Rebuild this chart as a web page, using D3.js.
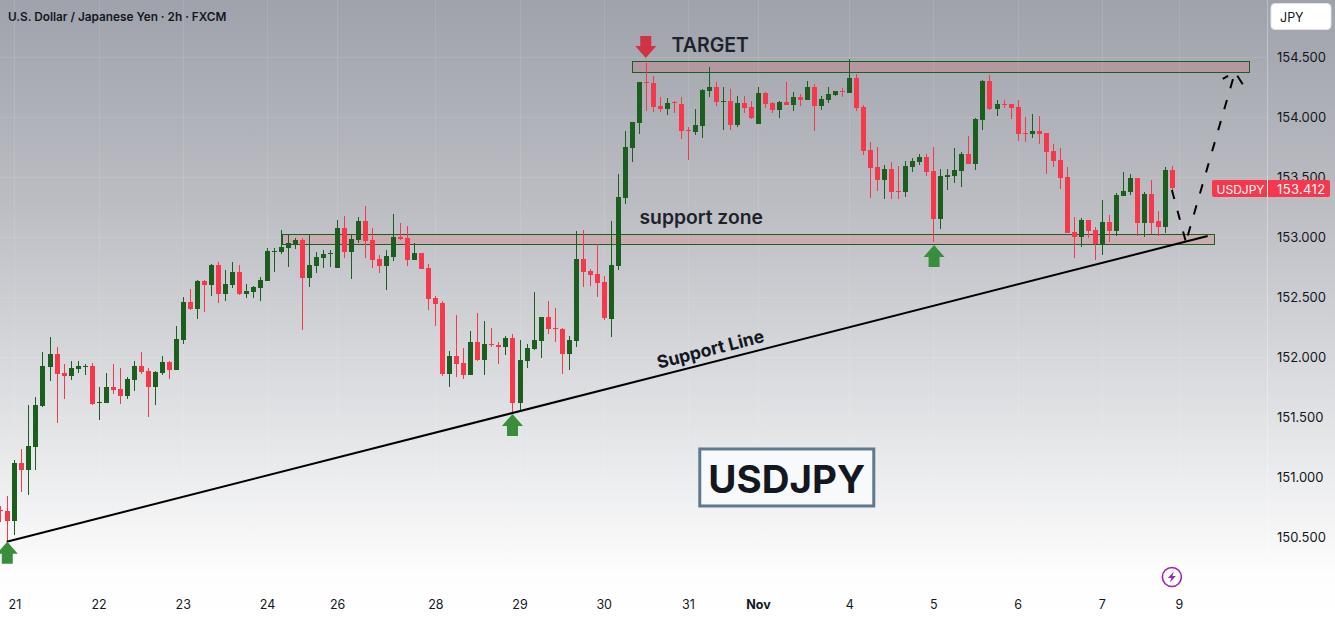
<!DOCTYPE html>
<html>
<head>
<meta charset="utf-8">
<title>USDJPY 2h</title>
<script src="https://cdn.jsdelivr.net/npm/d3@7/dist/d3.min.js"></script>
<style>
html,body{margin:0;padding:0;background:#fff;overflow:hidden}
svg{display:block}
text{font-family:Inter,Roboto,"Liberation Sans",sans-serif}
</style>
</head>
<body>
<svg id="chart" width="1335" height="618"></svg>
<script>
// USD/JPY two-hour candles, one row of ten per line
const opens = [
150.725,150.717,150.633,151.117,151.058,151.250,151.592,151.917,152.025,151.867,
151.842,151.900,151.917,151.925,151.617,151.617,151.750,151.733,151.675,151.808,
151.925,151.883,151.750,151.867,151.958,151.892,152.142,152.458,152.400,152.633,
152.600,152.767,152.525,152.600,152.708,152.525,152.542,152.575,152.633,152.875,
152.875,152.908,152.933,152.975,152.658,152.758,152.825,152.858,152.742,153.075,
152.875,152.975,153.133,152.975,152.817,152.758,152.833,153.000,152.992,152.808,
152.867,152.742,152.492,152.450,151.858,152.008,151.950,151.850,152.125,151.975,
152.108,152.100,152.083,152.158,151.617,151.967,152.067,152.133,152.333,152.242,
152.233,152.025,152.133,152.817,152.717,152.692,152.625,152.317,152.758,153.325,
153.742,153.950,154.292,154.283,154.092,154.067,154.125,154.108,153.892,153.875,
153.925,154.217,154.250,154.125,154.133,153.933,154.117,154.083,153.942,154.200,
154.117,154.058,154.125,154.100,154.167,154.142,154.250,154.092,154.142,154.183,
154.217,154.200,154.325,154.083,153.725,153.583,153.475,153.567,153.383,153.375,
153.583,153.625,153.667,153.550,153.150,153.500,153.508,153.550,153.692,153.608,
153.975,154.300,154.067,154.108,154.108,154.083,153.867,153.858,153.883,153.867,
153.717,153.642,153.500,153.042,153.000,153.142,153.058,152.942,153.125,153.050,
153.342,153.375,153.492,153.117,153.358,153.133,153.083,153.558];
const highs = [
150.758,150.842,151.142,151.233,151.600,151.667,152.042,152.167,152.083,151.942,
151.967,151.967,151.942,151.950,151.750,151.867,151.942,151.908,151.833,151.967,
152.042,151.908,151.883,152.008,151.967,152.258,152.500,152.567,152.642,152.642,
152.775,152.792,152.725,152.792,152.767,152.608,152.592,152.667,152.908,152.908,
153.058,153.025,152.992,152.992,153.025,152.875,152.892,152.892,153.142,153.175,
153.017,153.167,153.258,153.075,152.850,152.892,153.192,153.117,153.092,152.950,
152.867,152.775,152.508,152.467,152.050,152.350,152.075,152.217,152.367,152.300,
152.242,152.125,152.175,152.192,152.142,152.108,152.542,152.333,152.467,152.408,
152.242,152.175,153.050,153.058,152.733,152.942,152.675,153.133,153.525,153.883,
153.958,154.292,154.450,154.342,154.167,154.158,154.133,154.167,153.917,154.067,
154.233,154.417,154.292,154.250,154.233,154.175,154.175,154.133,154.250,154.208,
154.125,154.133,154.292,154.208,154.192,154.300,154.275,154.175,154.250,154.217,
154.242,154.483,154.358,154.100,153.792,153.750,153.600,153.625,153.592,153.633,
153.658,153.692,153.692,153.750,153.567,153.567,153.742,153.708,153.842,153.992,
154.308,154.350,154.142,154.142,154.108,154.142,154.000,154.025,154.008,153.867,
153.775,153.742,153.583,153.167,153.158,153.142,153.083,153.308,153.183,153.367,
153.542,153.525,153.492,153.375,153.475,153.217,153.583,153.592];
const lows = [
150.625,150.458,150.517,150.875,150.850,151.058,151.583,151.800,151.450,151.650,
151.808,151.867,151.850,151.600,151.475,151.617,151.692,151.608,151.650,151.717,
151.858,151.500,151.600,151.850,151.817,151.892,152.108,152.392,152.317,152.375,
152.508,152.450,152.467,152.575,152.517,152.492,152.492,152.467,152.633,152.708,
152.858,152.750,152.900,152.225,152.583,152.700,152.742,152.750,152.742,152.825,
152.650,152.950,152.825,152.742,152.700,152.558,152.800,152.975,152.758,152.808,
152.733,152.392,152.258,151.842,151.750,151.833,151.817,151.850,151.967,151.850,
152.083,151.942,152.017,151.525,151.550,151.908,152.058,151.992,152.192,152.125,
151.858,151.892,152.083,152.583,152.592,152.500,152.308,152.167,152.725,153.275,
153.625,153.858,154.050,154.042,154.042,154.017,154.033,153.817,153.642,153.850,
153.825,154.167,154.092,153.892,153.892,153.917,154.033,153.983,153.942,154.075,
154.033,153.992,154.100,154.050,154.092,154.142,153.883,154.058,154.117,154.175,
154.167,154.200,154.050,153.683,153.325,153.383,153.317,153.317,153.317,153.333,
153.542,153.600,153.508,152.958,153.067,153.392,153.450,153.417,153.608,153.558,
153.892,154.058,154.008,154.075,153.983,153.800,153.792,153.825,153.775,153.525,
153.583,153.400,153.033,152.825,152.917,152.992,152.808,152.850,152.958,153.008,
153.342,153.350,153.008,153.000,153.025,153.008,153.033,153.392];
const closes = [
150.717,150.633,151.117,151.058,151.258,151.600,151.925,152.025,151.858,151.842,
151.908,151.925,151.925,151.608,151.625,151.750,151.725,151.675,151.817,151.925,
151.875,151.750,151.875,151.958,151.892,152.150,152.458,152.400,152.633,152.600,
152.767,152.525,152.608,152.708,152.525,152.550,152.583,152.642,152.883,152.883,
152.917,152.950,152.975,152.658,152.767,152.833,152.858,152.867,153.075,152.875,
152.983,153.133,152.967,152.808,152.758,152.842,153.000,152.983,152.808,152.867,
152.733,152.483,152.442,151.858,152.008,151.942,151.850,152.125,151.975,152.108,
152.100,152.083,152.158,151.617,151.975,152.075,152.142,152.333,152.233,152.233,
152.025,152.142,152.817,152.708,152.683,152.617,152.325,152.767,153.333,153.750,
153.958,154.292,154.283,154.083,154.067,154.117,154.117,153.883,153.883,153.933,
154.225,154.250,154.125,154.133,153.933,154.117,154.075,153.992,154.200,154.108,
154.058,154.125,154.100,154.167,154.142,154.250,154.092,154.150,154.192,154.217,
154.208,154.325,154.075,153.717,153.575,153.475,153.567,153.375,153.375,153.592,
153.633,153.667,153.542,153.150,153.508,153.517,153.558,153.692,153.608,153.983,
154.300,154.067,154.108,154.100,154.075,153.858,153.858,153.883,153.858,153.708,
153.633,153.492,153.033,153.000,153.142,153.050,152.942,153.125,153.050,153.350,
153.383,153.492,153.117,153.358,153.117,153.083,153.558,153.412];

// Time axis: candle slot and the label shown there
const timeSlots  = [2,14,26,38,48,62,74,86,98,108,121,133,145,157,168];
const timeLabels = ["21","22","23","24","26","28","29","30","31","Nov","4","5","6","7","9"];
const priceTicks = [150.5,151,151.5,152,152.5,153,153.5,154,154.5];

// Drawn annotations, in candle slots and prices
const targetZone  = {x0:90.1, x1:178.0, top:154.464, bottom:154.372};
const supportZone = {x0:40.1, x1:173.0, top:153.025, bottom:152.942};
const trendLine   = [[0.9,150.461],[172.1,153.008]];
const forecastDown = [[167.0,153.392],[169.0,152.958]];
const forecastUp   = [[169.0,152.958],[176.0,154.375]];
const forecastLeftBarb  = [[176.0,154.375],[174.25,154.317]];
const forecastRightBarb = [[176.0,154.375],[177.1,154.272]];
const upArrows   = [[0.98,150.46],[73,151.525],[133.1,152.933]];
const downArrows = [[92,154.492]];
const lastPrice = 153.412;

const width = 1335, height = 618;
const GREEN = "#1b5e20", RED = "#f7374b";

const x = d3.scaleLinear().domain([0,168]).range([0.4,1178.9]);
const y = d3.scaleLinear().domain([149.825,154.975]).range([618,0]);

const svg = d3.select("#chart");
const defs = svg.append("defs");
const bg = defs.append("linearGradient").attr("id","pane").attr("x1",0).attr("x2",0).attr("y1",0).attr("y2",1);
[[0,"#9fa2ab"],[0.33,"#bcbdc3"],[0.72,"#e6e7e9"],[0.93,"#fdfdfd"],[1,"#ffffff"]]
  .forEach(([o,c]) => bg.append("stop").attr("offset",o).attr("stop-color",c));

svg.append("rect").attr("width",width).attr("height",height).attr("fill","url(#pane)");

// Faint grid and the price-scale separator
const grid = svg.append("g").attr("stroke","#fff").attr("stroke-opacity",0.1);
grid.selectAll("line.h").data(priceTicks).join("line")
  .attr("x1",0).attr("x2",1267)
  .attr("y1",d=>Math.round(y(d))+0.5).attr("y2",d=>Math.round(y(d))+0.5);
grid.selectAll("line.v").data(timeSlots).join("line")
  .attr("y1",0).attr("y2",594)
  .attr("x1",d=>Math.round(x(d))+0.5).attr("x2",d=>Math.round(x(d))+0.5);
svg.append("line").attr("x1",1267.5).attr("x2",1267.5).attr("y1",0).attr("y2",594)
  .attr("stroke","#fff").attr("stroke-opacity",0.3);

// Zones sit behind the candles
[targetZone,supportZone].forEach(z => {
  svg.append("rect")
    .attr("x",Math.round(x(z.x0))+0.5).attr("y",Math.round(y(z.top))+0.5)
    .attr("width",Math.round(x(z.x1))-Math.round(x(z.x0)))
    .attr("height",Math.round(y(z.bottom))-Math.round(y(z.top)))
    .attr("fill","#f23645").attr("fill-opacity",0.16)
    .attr("stroke",GREEN).attr("stroke-width",1);
});

// Candles
const candles = d3.range(opens.length);
const colour = i => closes[i] < opens[i] ? RED : GREEN;
const cg = svg.append("g").attr("shape-rendering","crispEdges");
cg.selectAll("rect.wick").data(candles).join("rect")
  .attr("class","wick")
  .attr("x",i=>Math.round(x(i))).attr("width",1)
  .attr("y",i=>y(highs[i]))
  .attr("height",i=>y(lows[i])-y(highs[i]))
  .attr("fill",colour);
cg.selectAll("rect.body").data(candles).join("rect")
  .attr("class","body")
  .attr("x",i=>Math.round(x(i))-2).attr("width",5)
  .attr("y",i=>Math.round(y(Math.max(opens[i],closes[i]))))
  .attr("height",i=>Math.max(1,Math.round(y(Math.min(opens[i],closes[i])))-Math.round(y(Math.max(opens[i],closes[i])))))
  .attr("fill",colour);

// Trend line and the dashed forecast path
const line = d3.line().x(d=>x(d[0])).y(d=>y(d[1]));
svg.append("path").attr("d",line(trendLine)).attr("fill","none").attr("stroke","#000").attr("stroke-width",2);
const dashed = (seg,pattern,offset) => svg.append("path").attr("d",line(seg)).attr("fill","none")
  .attr("stroke","#000").attr("stroke-width",2)
  .attr("stroke-dasharray",pattern).attr("stroke-dashoffset",offset);
dashed(forecastDown,"9.4 12.1",0);
dashed(forecastUp,"9.6 12.3",15.1);
dashed(forecastLeftBarb,"0 8 6.2 40",0);
dashed(forecastRightBarb,"0 4.4 10.1 40",0);

// Block arrows: the anchor is the tip
const arrowShape = dir => d3.line()([[0,0],[10.5,12*dir],[5.5,12*dir],[5.5,22*dir],[-5.5,22*dir],[-5.5,12*dir],[-10.5,12*dir]]) + "Z";
upArrows.forEach(([i,p]) => svg.append("path")
  .attr("transform",`translate(${x(i)},${y(p)})`).attr("d",arrowShape(1)).attr("fill","#388e3c"));
downArrows.forEach(([i,p]) => svg.append("path")
  .attr("transform",`translate(${x(i)},${y(p)})`).attr("d",arrowShape(-1)).attr("fill","#d13345"));

// Free text on the pane
const label = (txt,i,p,size,weight,extra) => {
  const t = svg.append("text").attr("x",x(i)).attr("y",y(p)).attr("text-anchor","middle")
    .attr("dominant-baseline","central")
    .attr("font-size",size).attr("font-weight",weight).attr("fill","#1e222d").text(txt);
  if (extra) extra(t);
  return t;
};
label("TARGET",101.2,154.6,19.5,600);
label("support zone",99.9,153.167,19.3,600);
const tlAngle = Math.atan2(y(trendLine[0][1])-y(trendLine[1][1]), x(trendLine[1][0])-x(trendLine[0][0]))*180/Math.PI;
label("Support Line",101.2,152.067,17.6,700,t=>t.attr("fill","#131722").attr("transform",`rotate(${-tlAngle},${x(101.2)},${y(152.067)})`));

// Boxed ticker caption
const boxX = x(112.1), boxY = y(150.996);
svg.append("rect").attr("x",boxX-87).attr("y",boxY-28.5).attr("width",174).attr("height",57)
  .attr("fill","#f8f9fa").attr("stroke","#5f7a90").attr("stroke-width",3);
svg.append("text").attr("x",boxX).attr("y",boxY+1.5).attr("text-anchor","middle").attr("dominant-baseline","central")
  .attr("font-size",38.5).attr("font-weight",700).attr("fill","#131722").text("USDJPY");

// Axes
const yAxis = svg.append("g").attr("transform","translate(1277,0)")
  .call(d3.axisRight(y).tickValues(priceTicks).tickFormat(d3.format(".3f")).tickSize(0).tickPadding(0));
yAxis.select(".domain").remove();
yAxis.selectAll("text").attr("font-size",13).attr("fill","#131722");

const xAxis = svg.append("g").attr("transform","translate(0,597)")
  .call(d3.axisBottom(x).tickValues(timeSlots).tickFormat((d,i)=>timeLabels[i]).tickSize(0).tickPadding(0));
xAxis.select(".domain").remove();
xAxis.selectAll("text").attr("font-size",12.5).attr("fill","#131722")
  .attr("y",3)
  .attr("font-weight",(d,i)=>timeLabels[i]==="Nov"?700:400);

// Last-price tag
const tagY = Math.round(y(lastPrice));
svg.append("rect").attr("x",1212).attr("y",tagY-8).attr("width",118).attr("height",17).attr("rx",2).attr("fill",RED);
svg.append("line").attr("x1",1267.5).attr("x2",1267.5).attr("y1",tagY-8).attr("y2",tagY+9).attr("stroke","#fff");
svg.append("text").attr("x",1216.5).attr("y",tagY+1).attr("dominant-baseline","central")
  .attr("font-size",12).attr("fill","#fff").text("USDJPY");
svg.append("text").attr("x",1277).attr("y",tagY+1).attr("dominant-baseline","central")
  .attr("font-size",13).attr("letter-spacing",0.35).attr("fill","#fff").text(d3.format(".3f")(lastPrice));

// Currency button
svg.append("rect").attr("x",1271).attr("y",3.5).attr("width",60).attr("height",26).attr("rx",4)
  .attr("fill","#fff").attr("stroke","#e0e3eb");
svg.append("text").attr("x",1280).attr("y",17).attr("dominant-baseline","central")
  .attr("font-size",12.5).attr("fill","#131722").text("JPY");

// Title
svg.append("text").attr("x",8).attr("y",17).attr("dominant-baseline","central")
  .attr("font-size",11.8).attr("font-weight",600).attr("fill","#131722")
  .text("U.S. Dollar / Japanese Yen · 2h · FXCM");

// Event marker with lightning bolt
const marker = svg.append("g").attr("transform",`translate(${x(167.0)},577)`);
marker.append("circle").attr("r",9.5).attr("fill","none").attr("stroke","#9c27b0").attr("stroke-width",1.6);
marker.append("path").attr("d","M2,-5.5 L-4,1 L-0.5,1 L-2,5.5 L4,-1 L0.5,-1 Z").attr("fill","#9c27b0");
</script>
</body>
</html>
